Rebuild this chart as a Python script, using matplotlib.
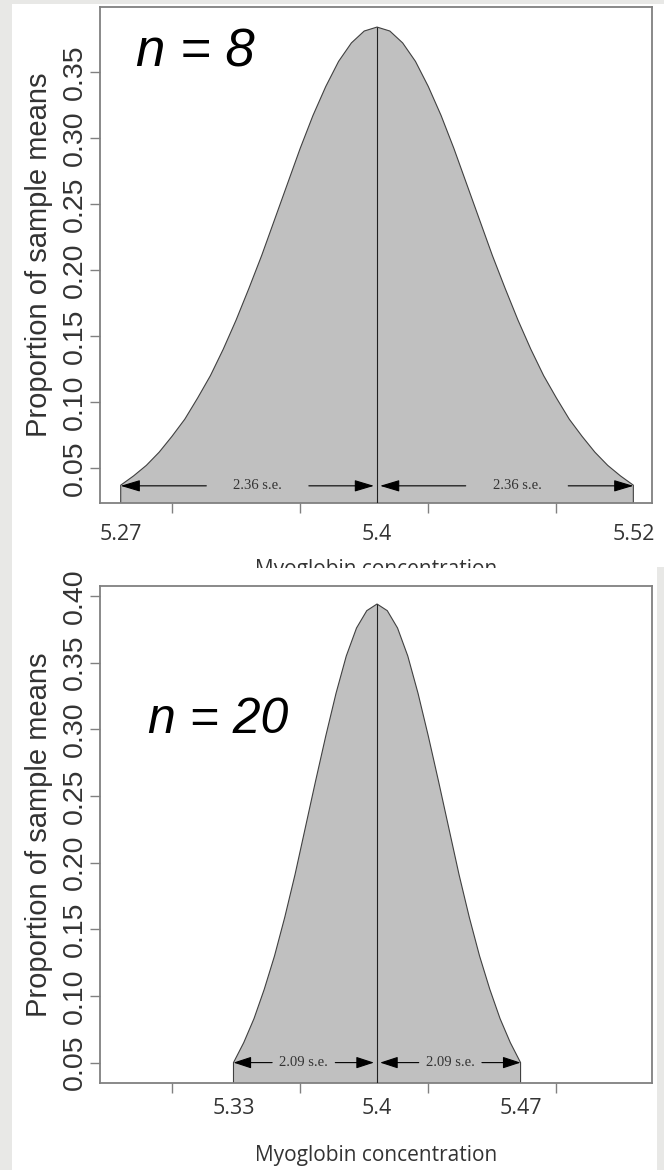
import matplotlib
matplotlib.use('Agg')
import matplotlib.pyplot as plt
from matplotlib.patches import Rectangle
from matplotlib.transforms import Bbox

plt.rcParams['font.family'] = ['Liberation Sans', 'DejaVu Sans']

# ---------------- data ----------------
x_label = 'Myoglobin concentration'
y_label = 'Proportion of sample means'

top_n_label = 'n = 8'
top_center = 5.40
top_offsets = [0.0, 0.00625, 0.0125, 0.01875, 0.025, 0.03125, 0.0375, 0.04375,
               0.05, 0.05625, 0.0625, 0.06875, 0.075, 0.08125, 0.0875, 0.09375,
               0.1, 0.10625, 0.1125, 0.11875, 0.125]
top_density = [0.384, 0.381, 0.372, 0.358, 0.339, 0.317, 0.292, 0.265,
               0.238, 0.211, 0.186, 0.162, 0.140, 0.120, 0.103, 0.087,
               0.074, 0.062, 0.052, 0.044, 0.037]
top_se_label = '2.36 s.e.'
top_xtick_pos = [5.275, 5.40, 5.525]
top_xtick_labels = ['5.27', '5.4', '5.52']
top_xtick_marks = [5.300, 5.3625, 5.425, 5.4875]
top_yticks = [0.05, 0.10, 0.15, 0.20, 0.25, 0.30, 0.35]
top_ytick_labels = ['0.05', '0.10', '0.15', '0.20', '0.25', '0.30', '0.35']

bot_n_label = 'n = 20'
bot_center = 5.40
bot_offsets = [0.0, 0.005, 0.01, 0.015, 0.02, 0.025, 0.03, 0.035,
               0.04, 0.045, 0.05, 0.055, 0.06, 0.065, 0.07]
bot_density = [0.394, 0.389, 0.376, 0.355, 0.327, 0.295, 0.261, 0.226,
               0.191, 0.159, 0.130, 0.105, 0.083, 0.065, 0.050]
bot_se_label = '2.09 s.e.'
bot_xtick_pos = [5.33, 5.40, 5.47]
bot_xtick_labels = ['5.33', '5.4', '5.47']
bot_xtick_marks = [5.300, 5.3625, 5.425, 5.4875]
bot_yticks = [0.05, 0.10, 0.15, 0.20, 0.25, 0.30, 0.35, 0.40]
bot_ytick_labels = ['0.05', '0.10', '0.15', '0.20', '0.25', '0.30', '0.35', '0.40']

# ---------------- figure ----------------
W, H = 664, 1170
fig = plt.figure(figsize=(W / 100, H / 100), dpi=100, facecolor='#e8e8e6')

# white "image" backgrounds
fig.add_artist(Rectangle((12 / W, 1 - 567 / H), (W - 12) / W, (567 - 4) / H,
                         transform=fig.transFigure, facecolor='white',
                         edgecolor='none', zorder=-1))
fig.add_artist(Rectangle((12 / W, 0), (657 - 12) / W, 1 - 567 / H,
                         transform=fig.transFigure, facecolor='white',
                         edgecolor='none', zorder=-1))


def px_axes(left, top, right, bottom):
    return fig.add_axes([left / W, 1 - bottom / H, (right - left) / W, (bottom - top) / H])


ax_top = px_axes(100, 7, 652, 503)
ax_bot = px_axes(100, 586, 652, 1083)

XLIM = (5.2649, 5.5341)
SPINE = '#808080'
TXT = '#333333'
FILL = '#c0c0c0'


def draw_panel(ax, center, offsets, density, se_label, arrow_y, text_shift,
               xtick_pos, xtick_labels, xtick_marks, yticks, ytick_labels,
               ylim, n_label, n_pos, n_size, xlabel_y, xtick_pad, head_len):
    xs = [center - o for o in reversed(offsets)] + [center + o for o in offsets[1:]]
    ys = list(reversed(density)) + density[1:]
    ax.fill([xs[0]] + xs + [xs[-1]], [0] + ys + [0], facecolor=FILL,
            edgecolor='#404040', lw=0.8, zorder=2)
    ax.vlines(center, 0, density[0], color='#202020', lw=0.8, zorder=3)

    # arrows with s.e. labels
    left_end = center - offsets[-1]
    right_end = center + offsets[-1]
    half = offsets[-1]
    gap = 0.2 * half if half > 0.1 else 0.22 * half
    arrowstyle = '-|>,head_length=%.1f,head_width=3.6' % head_len
    for a, b in [(left_end, center - 0.0015), (center + 0.0015, right_end)]:
        mid = (a + b) / 2 + text_shift
        ax.text(mid, arrow_y, se_label, ha='center', va='center',
                fontsize=10.5, family=['Liberation Serif', 'DejaVu Serif'],
                color=TXT, zorder=4)
        for tip, start in [(a, mid - gap), (b, mid + gap)]:
            ax.annotate('', xy=(tip, arrow_y), xytext=(start, arrow_y),
                        arrowprops=dict(arrowstyle=arrowstyle, mutation_scale=1,
                                        color='black', lw=0.8,
                                        shrinkA=0, shrinkB=0), zorder=4)

    ax.set_xlim(*XLIM)
    ax.set_ylim(*ylim)
    ax.set_xticks(xtick_pos, xtick_labels)
    ax.set_xticks(xtick_marks, minor=True)
    ax.tick_params(axis='x', which='major', length=0, pad=xtick_pad,
                   labelsize=15.5, labelcolor=TXT, labelfontfamily='Open Sans')
    ax.tick_params(axis='x', which='minor', length=7, width=1.0, color=SPINE)
    ax.set_yticks(yticks, ytick_labels)
    ax.tick_params(axis='y', length=7, width=1.0, color=SPINE, pad=2,
                   labelrotation=90, labelsize=20.5, labelcolor=TXT)
    for lbl in ax.get_yticklabels():
        lbl.set_va('center')
    for s in ax.spines.values():
        s.set_color(SPINE)
        s.set_linewidth(1.3)
    ax.set_ylabel(y_label, fontsize=21, color=TXT)
    ax.yaxis.set_label_coords(-0.086, 0.5)
    ax.set_xlabel(x_label, fontsize=15, family=['Open Sans', 'DejaVu Sans'],
                  color=TXT)
    ax.xaxis.set_label_coords(0.5, xlabel_y)
    ax.text(n_pos[0], n_pos[1], n_label, transform=ax.transAxes, ha='center',
            va='center', fontsize=n_size, style='italic', color='black')


draw_panel(ax_top, top_center, top_offsets, top_density, top_se_label, 0.0365,
           0.005, top_xtick_pos, top_xtick_labels, top_xtick_marks, top_yticks,
           top_ytick_labels, (0.0235, 0.3992), top_n_label, (0.172, 0.909), 38,
           -0.113, 15, 12)
draw_panel(ax_bot, bot_center, bot_offsets, bot_density, bot_se_label, 0.050,
           0.0, bot_xtick_pos, bot_xtick_labels, bot_xtick_marks, bot_yticks,
           bot_ytick_labels, (0.0347, 0.4075), bot_n_label, (0.214, 0.730), 36,
           -0.124, 11, 11)

# the top panel's axis title is cut off by the lower picture
lab = ax_top.xaxis.label
lab.set_clip_box(Bbox([[0, H - 568], [W, H]]))
lab.set_clip_on(True)

fig.savefig('out.png', dpi=100, facecolor=fig.get_facecolor())
